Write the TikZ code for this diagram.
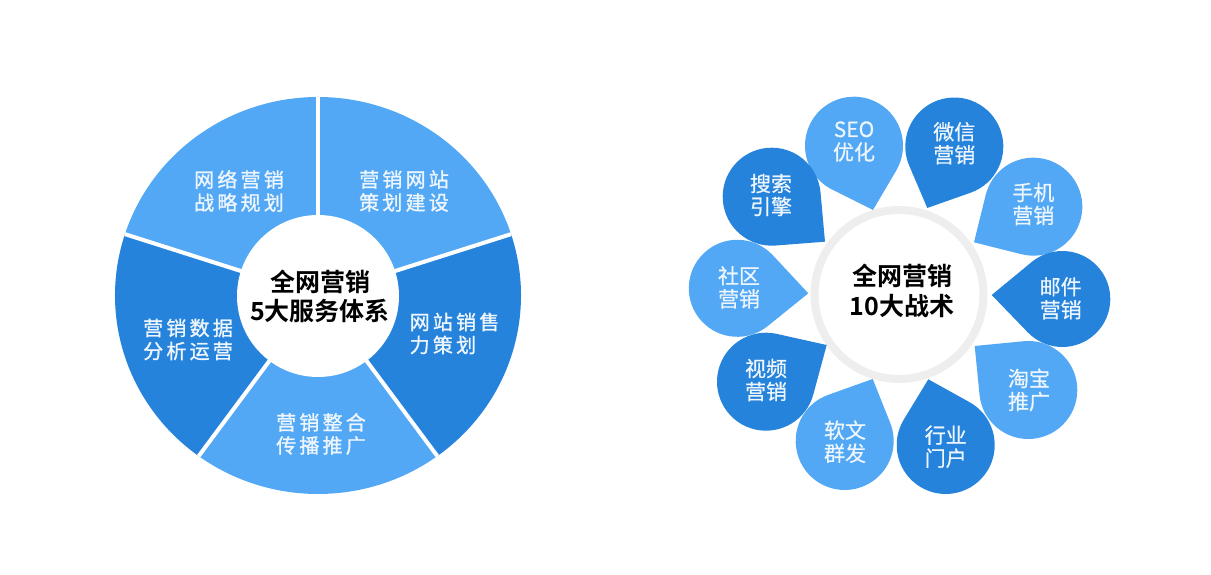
\documentclass[tikz,border=0pt]{standalone}
\usepackage{fontspec}
\setmainfont{Noto Sans CJK SC}
\newfontfamily\lblfont[LetterSpace=16,FakeBold=1.2]{Noto Sans CJK SC}
\newfontfamily\dropfont[FakeBold=0.6]{Noto Sans CJK SC}
\newfontfamily\boldcjk[BoldFont={Noto Sans CJK SC Bold}]{Noto Sans CJK SC}
\definecolor{lightblue}{RGB}{82,168,245}
\definecolor{darkblue}{RGB}{38,131,220}
\definecolor{ringgray}{RGB}{238,238,238}
\definecolor{softwhite}{RGB}{238,246,253}
\tikzset{
  sectorlight/.style={fill=lightblue,draw=none},
  sectordark/.style={fill=darkblue,draw=none},
  seprule/.style={draw=white,line width=4pt},
  pielabel/.style={text=softwhite,align=center,inner sep=0pt,font=\lblfont\fontsize{20}{23}\selectfont},
  droplabel/.style={text=softwhite,align=center,inner sep=0pt,font=\dropfont\fontsize{21}{23}\selectfont},
  centerlabel/.style={text=black,align=center,inner sep=0pt,font=\boldcjk\bfseries\fontsize{25}{29.5}\selectfont},
}
% args: tip x, tip y, centre x, centre y, radius, colour (y measured from the top)
\newcommand{\dropshape}[6]{%
  \pgfmathsetmacro{\tx}{#1}\pgfmathsetmacro{\ty}{575-#2}%
  \pgfmathsetmacro{\cx}{#3}\pgfmathsetmacro{\cy}{575-#4}%
  \pgfmathsetmacro{\dd}{veclen(\tx-\cx,\ty-\cy)}%
  \pgfmathsetmacro{\aa}{atan2(\ty-\cy,\tx-\cx)}%
  \pgfmathsetmacro{\bb}{acos(#5/\dd)}%
  \pgfmathsetmacro{\sa}{\aa+\bb}%
  \pgfmathsetmacro{\ea}{\aa-\bb+360}%
  \fill[#6] (\tx,\ty) -- ({\cx+#5*cos(\sa)},{\cy+#5*sin(\sa)})
     arc[start angle=\sa,end angle=\ea,radius=#5] -- cycle;%
}
\begin{document}
\begin{tikzpicture}[x=1pt,y=1pt]
\useasboundingbox (0,0) rectangle (1211,575);
% left pie
\coordinate (pc) at (318,279.5);
\path (pc) ++(90:203 and 198.5) coordinate (p90);
\path (pc) ++(18:203 and 198.5) coordinate (p18);
\path (pc) ++(-54:203 and 198.5) coordinate (pm54);
\path (pc) ++(-126:203 and 198.5) coordinate (pm126);
\path (pc) ++(162:203 and 198.5) coordinate (p162);
\fill[sectorlight] (pc) -- (p90) arc[start angle=90,end angle=18,x radius=203,y radius=198.5] -- cycle;
\fill[sectordark] (pc) -- (p18) arc[start angle=18,end angle=-54,x radius=203,y radius=198.5] -- cycle;
\fill[sectorlight] (pc) -- (pm54) arc[start angle=-54,end angle=-126,x radius=203,y radius=198.5] -- cycle;
\fill[sectordark] (pc) -- (pm126) arc[start angle=-126,end angle=-198,x radius=203,y radius=198.5] -- cycle;
\fill[sectorlight] (pc) -- (p162) arc[start angle=162,end angle=90,x radius=203,y radius=198.5] -- cycle;
\foreach \e in {p90,p18,pm54,pm126,p162} \draw[seprule] (pc) -- (\e);
\node[circle,fill=white,minimum size=162pt,inner sep=0pt] (hub1) at (318,279) {};
\node[centerlabel] (hub1t) at (320,278.5) {全网营销\\5大服务体系};
\node[pielabel] (s1) at (239,384) {网络营销\\战略规划};
\node[pielabel] (s2) at (404,384) {营销网站\\策划建设};
\node[pielabel,align=left] (s3) at (454.5,241.5) {网站销售\\力策划};
\node[pielabel] (s4) at (188,235.5) {营销数据\\分析运营};
\node[pielabel] (s5) at (321,141) {营销整合\\传播推广};
% right flower
\node[circle,draw=ringgray,line width=8pt,fill=white,minimum size=169pt,inner sep=0pt] (hub2) at (899,280.5) {};
\node[centerlabel] (hub2t) at (902,284) {全网营销\\10大战术};
\dropshape{873}{210}{854}{145.7}{49}{lightblue}
\dropshape{927.3}{208}{954.3}{146.5}{49}{darkblue}
\dropshape{974}{242.3}{1033.3}{206.7}{49}{lightblue}
\dropshape{991.7}{295}{1062.3}{299}{48}{darkblue}
\dropshape{974.7}{346}{1028.3}{390}{49}{lightblue}
\dropshape{928.3}{379.3}{945.7}{445}{49}{darkblue}
\dropshape{872.7}{379}{844.7}{441}{49}{lightblue}
\dropshape{826.7}{345}{766}{381.7}{49}{darkblue}
\dropshape{808.3}{293.3}{737.3}{288.3}{48.5}{lightblue}
\dropshape{825}{241.7}{771.7}{196.7}{49}{darkblue}
\node[droplabel] (d1) at (854,433.5) {SEO\\优化};
\node[droplabel] (d2) at (954.3,431.7) {微信\\营销};
\node[droplabel] (d3) at (1033.3,371) {手机\\营销};
\node[droplabel] (d4) at (1060.7,276.7) {邮件\\营销};
\node[droplabel] (d5) at (1029,185) {淘宝\\推广};
\node[droplabel] (d6) at (945.7,128.3) {行业\\门户};
\node[droplabel] (d7) at (845,133.3) {软文\\群发};
\node[droplabel] (d8) at (766,195) {视频\\营销};
\node[droplabel] (d9) at (739,287.7) {社区\\营销};
\node[droplabel] (d10) at (771,380) {搜索\\引擎};
\end{tikzpicture}
\end{document}
